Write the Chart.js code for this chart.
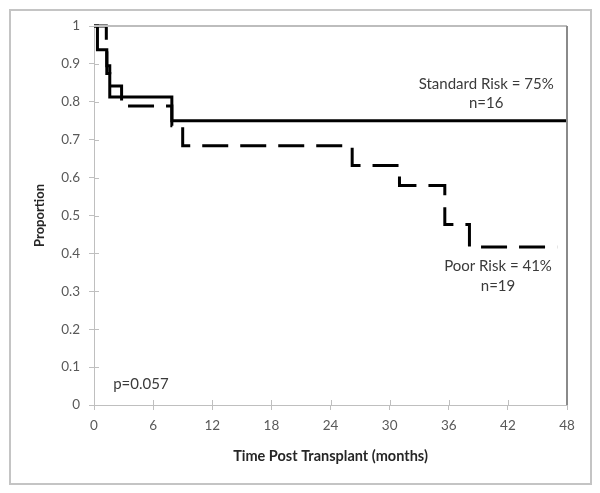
<!DOCTYPE html>
<html>
<head>
<meta charset="utf-8">
<script src="https://cdn.jsdelivr.net/npm/chart.js@4/dist/chart.umd.min.js"></script>
<style>
  html, body { margin: 0; padding: 0; background: #ffffff; }
  #wrap { width: 600px; height: 493px; }
</style>
</head>
<body>
<div id="wrap"><canvas id="c" width="600" height="493"></canvas></div>
<script>
// ---- data ----
const standardTimes  = [0, 0.35, 1.3, 1.6, 7.9, 48];
const standardValues = [1, 0.9375, 0.875, 0.8125, 0.75, 0.75];

const poorTimes  = [0, 1.25, 1.3, 1.6, 2.8, 7.9, 9.0, 26.2, 31.0, 35.6, 38.1, 47];
const poorValues = [1, 0.947, 0.895, 0.842, 0.789, 0.737, 0.684, 0.632, 0.579, 0.476, 0.417, 0.417];

const xTicks = [0, 6, 12, 18, 24, 30, 36, 42, 48];
const yTicks = [0, 0.1, 0.2, 0.3, 0.4, 0.5, 0.6, 0.7, 0.8, 0.9, 1];

const xTitle = 'Time Post Transplant (months)';
const yTitle = 'Proportion';

// annotations: [text, x (months), y (proportion), align]
const annotations = [
  ['Standard Risk = 75%', 39.8, 0.847, 'center'],
  ['n=16', 39.8, 0.797, 'center'],
  ['Poor Risk = 41%', 41.0, 0.367, 'center'],
  ['n=19', 41.0, 0.314, 'center'],
  ['p=0.057', 1.95, 0.055, 'left']
];

const toPoints = (ts, vs) => ts.map((t, i) => ({x: t, y: vs[i]}));
const FONT = 'Lato, "Open Sans", sans-serif';

const framePlugin = {
  id: 'frame',
  beforeDraw(chart) {
    const ctx = chart.ctx;
    ctx.save();
    ctx.fillStyle = '#ffffff';
    ctx.fillRect(0, 0, chart.width, chart.height);
    ctx.strokeStyle = '#c4c4c4';
    ctx.lineWidth = 2;
    ctx.strokeRect(10, 10, 581, 474);
    ctx.restore();
  },
  afterDraw(chart) {
    const ctx = chart.ctx;
    const a = chart.chartArea;
    const xs = chart.scales.x, ys = chart.scales.y;
    ctx.save();
    // inner tick stubs
    ctx.strokeStyle = '#bfbfbf';
    ctx.lineWidth = 1;
    ctx.beginPath();
    yTicks.forEach(v => {
      const y = Math.round(ys.getPixelForValue(v)) + 0.5;
      ctx.moveTo(a.left, y); ctx.lineTo(a.left + 5, y);
    });
    xTicks.forEach(v => {
      const x = Math.round(xs.getPixelForValue(v)) + 0.5;
      ctx.moveTo(x, a.bottom); ctx.lineTo(x, a.bottom - 5);
    });
    ctx.stroke();
    // top and right plot border
    ctx.strokeStyle = '#bdbdbd';
    ctx.lineWidth = 2;
    ctx.beginPath();
    ctx.moveTo(a.left, a.top); ctx.lineTo(a.right, a.top);
    ctx.stroke();
    ctx.strokeStyle = '#8a8a8a';
    ctx.beginPath();
    ctx.moveTo(a.right, a.top); ctx.lineTo(a.right, a.bottom);
    ctx.stroke();
    // annotations
    ctx.fillStyle = '#3a3a3a';
    ctx.font = '15px ' + FONT;
    ctx.textBaseline = 'middle';
    annotations.forEach(([t, x, y, al]) => {
      ctx.textAlign = al;
      ctx.fillText(t, xs.getPixelForValue(x), ys.getPixelForValue(y));
    });
    ctx.restore();
  }
};

new Chart(document.getElementById('c'), {
  type: 'line',
  data: {
    datasets: [
      {
        label: 'Standard Risk',
        data: toPoints(standardTimes, standardValues),
        borderColor: '#000000',
        borderWidth: 3,
        stepped: true,
        pointRadius: 0,
        fill: false,
        clip: false
      },
      {
        label: 'Poor Risk',
        data: toPoints(poorTimes, poorValues),
        borderColor: '#000000',
        borderWidth: 3,
        borderDash: [26, 12],
        stepped: true,
        pointRadius: 0,
        fill: false,
        clip: false
      }
    ]
  },
  plugins: [framePlugin],
  options: {
    responsive: false,
    animation: false,
    devicePixelRatio: 1,
    layout: { padding: { top: 26, right: 33, bottom: 0, left: 0 } },
    plugins: { legend: { display: false }, tooltip: { enabled: false } },
    scales: {
      x: {
        type: 'linear',
        min: 0, max: 48,
        afterBuildTicks: s => { s.ticks = xTicks.map(v => ({value: v})); },
        afterFit: s => { s.height = 88; },
        grid: { drawOnChartArea: false, drawTicks: true, tickLength: 5, color: '#bfbfbf' },
        border: { color: '#bfbfbf', width: 1 },
        ticks: { color: '#595959', font: { family: FONT, size: 13.5 }, padding: 8, maxRotation: 0 },
        title: { display: true, text: xTitle, color: '#262626',
                 font: { family: FONT, size: 14.5, weight: 'bold' }, padding: { top: 0, bottom: 28 } }
      },
      y: {
        type: 'linear',
        min: 0, max: 1,
        afterBuildTicks: s => { s.ticks = yTicks.map(v => ({value: v})); },
        afterFit: s => { s.width = 94; },
        grid: { drawOnChartArea: false, drawTicks: true, tickLength: 5, color: '#bfbfbf' },
        border: { color: '#bfbfbf', width: 1 },
        ticks: { color: '#595959', font: { family: FONT, size: 13.5 }, padding: 9,
                 callback: v => String(Math.round(v * 10) / 10) },
        title: { display: true, text: yTitle, color: '#262626',
                 font: { family: FONT, size: 13, weight: 'bold' }, padding: { top: 32, bottom: 0 } }
      }
    }
  }
});
</script>
</body>
</html>
